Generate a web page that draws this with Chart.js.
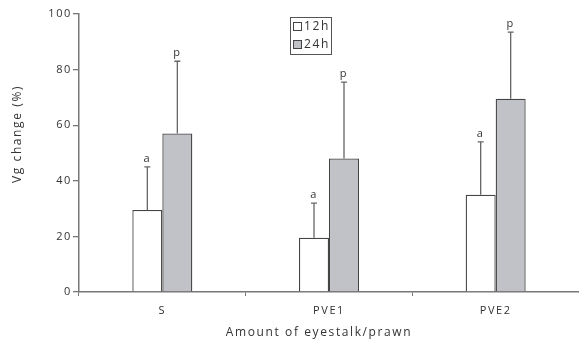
<!DOCTYPE html>
<html><head><meta charset="utf-8">
<script src="https://cdn.jsdelivr.net/npm/chart.js@4/dist/chart.umd.min.js"></script>
<style>html,body{margin:0;padding:0;background:#fff}#wrap{width:579px;height:348px}#c{letter-spacing:1.6px}</style>
</head><body><div id="wrap"><canvas id="c"></canvas></div>
<script>
const categories = ["S", "PVE1", "PVE2"];
const seriesLabels = ["12h", "24h"];
const values12h = [29.5, 19.5, 35];
const values24h = [57, 48, 69.5];
const err12h = [15.5, 12.5, 19];
const err24h = [26, 27.5, 24];
const letters12h = ["a", "a", "a"];
const letters24h = ["p", "p", "p"];
const yTicks = [0, 20, 40, 60, 80, 100];
const xTitle = "Amount of eyestalk/prawn";
const yTitle = "Vg change (%)";

const FONT = "'Open Sans', 'DejaVu Sans', sans-serif";
const TXT = '#333';
const AX = '#777';
const LS = '1.6px';

function setLS(chart){ try { chart.ctx.letterSpacing = LS; } catch(e) {} }
const spacing = {
  id: 'spacing',
  beforeUpdate: setLS, beforeLayout: setLS, beforeDraw: setLS
};

const errPlugin = {
  id: 'errbars',
  afterDatasetsDraw(chart){
    const ctx = chart.ctx, ys = chart.scales.y;
    const errs = [err12h, err24h], lets = [letters12h, letters24h];
    ctx.save();
    chart.data.datasets.forEach((ds, di) => {
      const meta = chart.getDatasetMeta(di);
      meta.data.forEach((el, i) => {
        const top = ys.getPixelForValue(ds.data[i] + errs[di][i]);
        const base = el.y;
        ctx.strokeStyle = '#666';
        ctx.lineWidth = 1.3;
        ctx.beginPath();
        ctx.moveTo(el.x, base); ctx.lineTo(el.x, top);
        ctx.moveTo(el.x - 3, top); ctx.lineTo(el.x + 3, top);
        ctx.stroke();
        ctx.fillStyle = TXT;
        ctx.font = '11px ' + FONT;
        ctx.textAlign = 'center';
        ctx.textBaseline = 'bottom';
        ctx.fillText(lets[di][i], el.x, top - 3);
      });
    });
    ctx.restore();
  }
};

const titlesPlugin = {
  id: 'titles',
  afterDraw(chart){
    const ctx = chart.ctx;
    ctx.save();
    ctx.fillStyle = TXT;
    ctx.font = '12px ' + FONT;
    ctx.textAlign = 'center'; ctx.textBaseline = 'middle';
    ctx.fillText(xTitle, 319, 333);
    ctx.translate(18, 134);
    ctx.rotate(-Math.PI / 2);
    ctx.fillText(yTitle, 0, 0);
    ctx.restore();
  }
};

const legendPlugin = {
  id: 'boxlegend',
  afterDraw(chart){
    const ctx = chart.ctx;
    ctx.save();
    const x = 290, y = 17, w = 41, h = 37;
    ctx.strokeStyle = '#555'; ctx.lineWidth = 1;
    ctx.strokeRect(x + 0.5, y + 0.5, w, h);
    const fills = ['#ffffff', '#c0c2c8'];
    chart.data.datasets.forEach((ds, i) => {
      const ly = y + 9 + i * 18;
      ctx.fillStyle = fills[i];
      ctx.fillRect(x + 3, ly - 4, 8, 8);
      ctx.strokeStyle = '#444';
      ctx.strokeRect(x + 3.5, ly - 3.5, 8, 8);
      ctx.fillStyle = TXT;
      ctx.font = '12px ' + FONT;
      ctx.textAlign = 'left'; ctx.textBaseline = 'middle';
      ctx.fillText(ds.label, x + 14, ly + 1);
    });
    ctx.restore();
  }
};

new Chart(document.getElementById('c'), {
  type: 'bar',
  data: {
    labels: categories,
    datasets: [
      { label: seriesLabels[0], data: values12h, backgroundColor: '#ffffff', borderColor: '#444', borderWidth: 1.3 },
      { label: seriesLabels[1], data: values24h, backgroundColor: '#c0c2c8', borderColor: '#444', borderWidth: 1.3 }
    ]
  },
  options: {
    responsive: true, maintainAspectRatio: false, animation: false,
    categoryPercentage: 0.36, barPercentage: 1,
    layout: { padding: { top: 14, right: 0, left: 0, bottom: 0 } },
    plugins: { legend: { display: false }, tooltip: { enabled: false } },
    scales: {
      x: {
        grid: { display: true, drawOnChartArea: false, offset: true, tickLength: 4, color: AX, lineWidth: 1 },
        border: { color: AX, width: 1.5 },
        ticks: { color: TXT, font: { family: FONT, size: 11 }, padding: 8 },
        afterFit(s){ s.height = 56; }
      },
      y: {
        min: 0, max: 100,
        afterBuildTicks(s){ s.ticks = yTicks.map(v => ({ value: v })); },
        grid: { display: true, drawOnChartArea: false, tickLength: 6, color: AX, lineWidth: 1.3 },
        border: { color: AX, width: 1.5 },
        ticks: { color: TXT, font: { family: FONT, size: 11 }, padding: 1 },
        afterFit(s){ s.width = 79; }
      }
    }
  },
  plugins: [spacing, errPlugin, titlesPlugin, legendPlugin]
});
</script></body></html>
